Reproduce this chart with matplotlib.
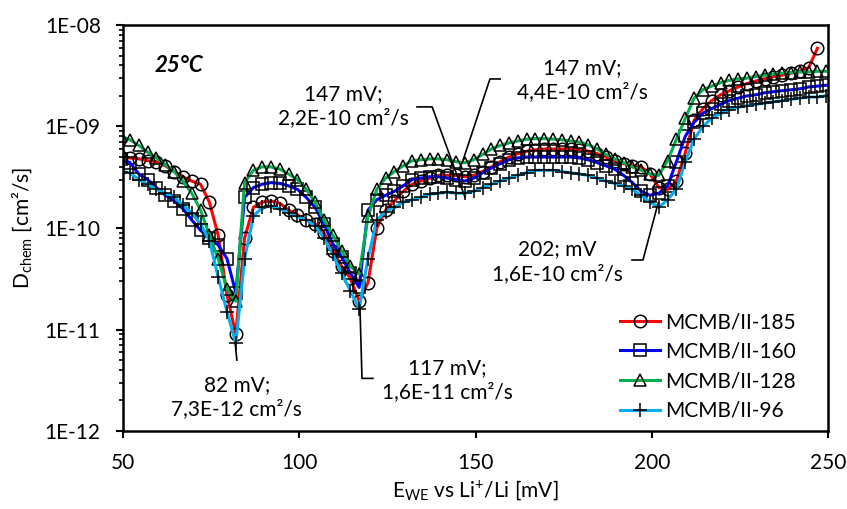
import numpy as np
import matplotlib
matplotlib.use("Agg")
import matplotlib.pyplot as plt

plt.rcParams['font.family'] = ['Lato', 'DejaVu Sans']
plt.rcParams['mathtext.fontset'] = 'custom'
plt.rcParams['mathtext.rm'] = 'Lato'
plt.rcParams['mathtext.it'] = 'Lato:italic'
plt.rcParams['mathtext.bf'] = 'Lato:bold'

# potential [mV]
ewe = [49.5, 52, 54.5, 57, 59.5, 62, 64.5, 67, 69.5, 72,
       74.5, 77, 79.5, 82, 84.5, 87, 89.5, 92, 94.5, 97,
       99.5, 102, 104.5, 107, 109.5, 112, 114.5, 117, 119.5, 122,
       124.5, 127, 129.5, 132, 134.5, 137, 139.5, 142, 144.5, 147,
       149.5, 152, 154.5, 157, 159.5, 162, 164.5, 167, 169.5, 172,
       174.5, 177, 179.5, 182, 184.5, 187, 189.5, 192, 194.5, 197,
       199.5, 202, 204.5, 207, 209.5, 212, 214.5, 217, 219.5, 222,
       224.5, 227, 229.5, 232, 234.5, 237, 239.5, 242, 244.5, 247,
       249.5]

# D_chem in units of 1E-10 cm2/s
d185 = [5.0, 4.9, 4.8, 4.6, 4.5, 4.1, 3.6, 3.2, 2.9, 2.7,
        1.8, 0.85, 0.22, 0.09, 0.8, 1.6, 1.8, 1.85, 1.75, 1.5,
        1.35, 1.2, 1.1, 0.9, 0.6, 0.42, 0.32, 0.19, 0.29, 1.0,
        1.5, 1.85, 2.3, 2.7, 2.9, 3.1, 3.3, 3.3, 3.3, 3.2,
        3.3, 3.6, 4.0, 4.5, 5.0, 5.4, 5.7, 5.9, 6.0, 6.0,
        6.0, 6.0, 5.9, 5.7, 5.4, 5.0, 4.6, 4.3, 4.1, 4.0,
        3.4, 2.5, 2.4, 2.9, 5.5, 11.5, 15, 18, 20.5, 22.5,
        24.5, 26.5, 28, 29.5, 31, 32, 33.5, 35, 38, 59,
        np.nan]
d160 = [4.8, 4.4, 3.4, 3.0, 2.5, 2.1, 1.85, 1.55, 1.2, 0.95,
        0.8, 0.68, 0.5, 0.23, 2.0, 2.5, 2.7, 2.8, 2.75, 2.6,
        2.4, 2.0, 1.6, 1.1, 0.7, 0.52, 0.36, 0.26, 1.5, 1.9,
        2.1, 2.3, 2.6, 3.0, 3.1, 3.2, 3.2, 3.1, 3.0, 2.9,
        3.1, 3.5, 3.9, 4.3, 4.7, 4.9, 5.0, 5.0, 5.0, 5.0,
        5.0, 5.0, 4.9, 4.7, 4.4, 4.1, 3.8, 3.3, 2.8, 2.3,
        2.1, 2.2, 2.6, 4.5, 8.0, 11, 13.5, 15, 16.5, 18,
        19, 20, 20.5, 21.5, 22, 22.5, 23, 23.5, 24.5, 25,
        25.5]
d128 = [8.0, 7.4, 6.5, 5.6, 4.9, 4.2, 3.6, 2.9, 2.2, 1.5,
        0.85, 0.5, 0.25, 0.19, 2.8, 3.7, 4.0, 4.0, 3.8, 3.4,
        3.0, 2.4, 1.8, 1.2, 0.85, 0.6, 0.42, 0.35, 1.3, 2.4,
        3.1, 3.6, 4.1, 4.6, 4.7, 4.8, 4.8, 4.7, 4.5, 4.4,
        4.7, 5.3, 6.0, 6.5, 6.9, 7.2, 7.5, 7.6, 7.6, 7.5,
        7.4, 7.2, 7.0, 6.6, 6.0, 5.3, 4.8, 4.4, 4.0, 3.7,
        3.4, 3.3, 4.6, 7.5, 12, 19, 23, 25, 27, 28.5,
        29.5, 30, 31, 32, 33, 33.5, 34, 34.5, 34.5, 35,
        35]
d96 = [3.6, 3.5, 3.0, 2.7, 2.4, 2.2, 2.0, 1.7, 1.4, 1.1,
       0.75, 0.33, 0.15, 0.073, 0.5, 1.3, 1.6, 1.65, 1.55, 1.4,
       1.3, 1.2, 1.05, 0.8, 0.55, 0.36, 0.24, 0.16, 0.5, 1.2,
       1.45, 1.6, 1.8, 1.9, 2.0, 2.15, 2.2, 2.25, 2.2, 2.2,
       2.3, 2.5, 2.7, 2.9, 3.1, 3.3, 3.5, 3.7, 3.7, 3.7,
       3.6, 3.5, 3.4, 3.3, 3.1, 2.9, 2.75, 2.6, 2.4, 2.1,
       1.8, 1.6, 1.9, 2.4, 4.5, 7.5, 10, 12, 13.5, 14.5,
       15.5, 16, 16.5, 17, 17.5, 18, 18.5, 19, 19.5, 19.5,
       20]

labels = ['MCMB/II-185', 'MCMB/II-160', 'MCMB/II-128', 'MCMB/II-96']
colors = ['#FF0000', '#0000FF', '#00B050', '#00B0F0']
markers = ['o', 's', '^', '+']
msizes = [9, 8.5, 9, 10]

yticks = [1e-12, 1e-11, 1e-10, 1e-09, 1e-08]
yticklabels = ['1E-12', '1E-11', '1E-10', '1E-09', '1E-08']
xticks = [50, 100, 150, 200, 250]

# annotation texts, text position, leader path (mV, cm2/s)
notes = [
    ('82 mV;\n7,3E-12 cm²/s', (82.3, 2.16e-12), [82.3, 81.8], [5.0e-12, 7.5e-12]),
    ('117 mV;\n1,6E-11 cm²/s', (141.9, 3.18e-12), [117.2, 117.8, 120.9], [1.74e-11, 3.3e-12, 3.3e-12]),
    ('147 mV;\n2,2E-10 cm²/s', (112.4, 1.59e-9), [133.4, 137.7, 147.0], [1.56e-9, 1.56e-9, 2.02e-10]),
    ('147 mV;\n4,4E-10 cm²/s', (180.2, 2.87e-9), [157.0, 154.1, 146.5], [2.94e-9, 2.94e-9, 4.7e-10]),
    ('202; mV\n1,6E-10 cm²/s', (173.1, 4.68e-11), [194.4, 197.5, 201.8], [4.84e-11, 4.84e-11, 1.76e-10]),
]

fig = plt.figure(figsize=(8.47, 5.09), dpi=100)
ax = fig.add_axes([0.1452, 0.1532, 0.8324, 0.7977])

x = np.array(ewe)
for d, lab, c, m, ms in zip([d185, d160, d128, d96], labels, colors, markers, msizes):
    ax.semilogy(x, np.array(d) * 1e-10, color=c, lw=2.2, label=lab,
                marker=m, ms=ms, mfc='none', mec='black', mew=1.1)

for txt, pos, lx, ly in notes:
    ax.plot(lx, ly, color='black', lw=1.2)
    ax.text(pos[0], pos[1], txt, ha='center', va='center', fontsize=15, linespacing=1.3)

ax.text(65.9, 4.0e-9, '25°C', ha='center', va='center', fontsize=16,
        fontweight='bold', fontstyle='italic')

ax.set_xlim(50, 250)
ax.set_ylim(1e-12, 1e-8)
ax.set_xticks(xticks)
ax.set_yticks(yticks, yticklabels)
ax.yaxis.set_minor_formatter(matplotlib.ticker.NullFormatter())
ax.tick_params(axis='both', which='major', direction='out', length=5, width=1.5,
               labelsize=15, pad=11)
ax.tick_params(axis='y', which='minor', direction='out', length=3, width=1.2)
for s in ax.spines.values():
    s.set_linewidth(1.8)

ax.set_xlabel(r'E$_{\mathrm{WE}}$ vs Li$^{+}$/Li [mV]', fontsize=15, labelpad=4)
ax.set_ylabel(r'D$_{\mathrm{chem}}$ [cm²/s]', fontsize=15, labelpad=8)

ax.legend(loc='upper left', bbox_to_anchor=(0.705, 0.293), frameon=False,
          fontsize=15, handlelength=1.9, handletextpad=0.25, labelspacing=0.46,
          borderpad=0, borderaxespad=0)

fig.savefig('out.png', dpi=100)
